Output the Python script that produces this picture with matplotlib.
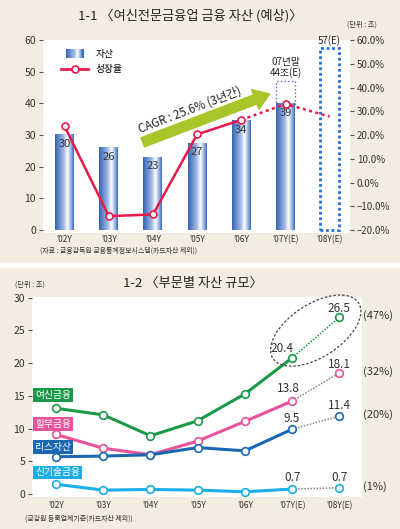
import numpy as np
import matplotlib
matplotlib.use('Agg')
import matplotlib.pyplot as plt
from matplotlib.colors import LinearSegmentedColormap
from matplotlib.patches import Rectangle, Ellipse, FancyArrowPatch
from matplotlib.lines import Line2D
from matplotlib.legend_handler import HandlerBase

plt.rcParams['font.family'] = ['Noto Sans CJK KR', 'DejaVu Sans']

# ---- 1-1 데이터 ----
years = ["'02Y", "'03Y", "'04Y", "'05Y", "'06Y", "'07Y(E)", "'08Y(E)"]
assets = [30, 26, 23, 27.4, 34.5, 39.8]          # 조
asset_labels = ['30', '26', '23', '27', '34', '39']
asset_07_end = 47                                 # 07년말 예상 박스 상단
asset_08 = 57.5
growth = [23.7, -14.1, -13.4, 20.3, 26.4, 33.1, 27.8]   # %

# ---- 1-2 데이터 ----
sectors = ['여신금융', '할부금융', '리스자산', '신기술금융']
credit = [13.1, 12.1, 8.9, 11.2, 15.3, 20.8, 27.0]
install = [9.1, 7.0, 6.0, 8.1, 11.1, 14.2, 18.5]
lease = [5.7, 5.8, 6.0, 7.1, 6.6, 9.9, 11.9]
newtech = [1.5, 0.6, 0.7, 0.6, 0.35, 0.76, 0.96]
value_labels = [['20.4', '26.5'], ['13.8', '18.1'], ['9.5', '11.4'], ['0.7', '0.7']]
shares = ['(47%)', '(32%)', '(20%)', '(1%)']

BG = '#f3ece1'
RED = '#e8194b'
colors = ['#1a9a48', '#e8529a', '#1b67b2', '#1aaee6']

fig = plt.figure(figsize=(4, 5.29), dpi=100, facecolor=BG)
fig.patches.append(Rectangle((0, 1 - 267 / 529), 1, 4 / 529, transform=fig.transFigure,
                             color='white', zorder=0))

# ================= 1-1 =================
ax1 = fig.add_axes([0.1075, 0.5595, 0.7675, 0.3649])
ax1.set_facecolor('white')
for s in ax1.spines.values():
    s.set_visible(False)

x = np.arange(len(years))
w = 0.43
bar_cmap = LinearSegmentedColormap.from_list('bar', [(0, '#3763b6'), (0.45, '#9db6e4'),
                                                     (0.66, '#ffffff'), (0.84, '#9fb9e6'),
                                                     (1, '#3a6cc0')])
grad = np.linspace(0, 1, 64).reshape(1, -1)
bars = ax1.bar(x[:6], assets, width=w, color='none', zorder=2)
for b, lab in zip(bars, asset_labels):
    x0 = b.get_x()
    h = b.get_height()
    ax1.imshow(grad, extent=[x0, x0 + w, 0, h], cmap=bar_cmap, aspect='auto', zorder=2)
    ax1.annotate(lab, (x0 + w / 2, h), xytext=(0, -6.5), textcoords='offset points',
                 ha='center', va='center', fontsize=8, color='#333333', zorder=4)

# 07년말 예상분, 08년 예상
ax1.bar(x[5], asset_07_end - assets[5], bottom=assets[5], width=w, fill=False,
        edgecolor='#6a5ad6', linestyle=':', linewidth=1, zorder=3)
ax1.annotate('07년말\n44조(E)', (x[5], asset_07_end), xytext=(0, 2), textcoords='offset points',
             ha='center', va='bottom', fontsize=7, linespacing=1.1, color='#222222')
ax1.bar(x[6], asset_08, width=w, fill=False, edgecolor='#1f6fd6',
        linestyle=(0, (1, 1)), linewidth=2, zorder=3)
ax1.annotate('57(E)', (x[6], asset_08), xytext=(0, 1.5), textcoords='offset points',
             ha='center', va='bottom', fontsize=7, color='#222222')

ax1.set_xlim(-0.49, 6.46)
ax1.set_ylim(-0.9, 60)
ax1.set_yticks(range(0, 61, 10))
ax1.set_xticks(x)
ax1.set_xticklabels(years)
ax1.tick_params(axis='y', length=3, width=0.8, color='#555555', labelsize=7.5, pad=2,
                labelcolor='#333333')
ax1.tick_params(axis='x', length=0, labelsize=6, pad=1.5, labelcolor='#333333')

# CAGR 화살표
arrow = FancyArrowPatch((1.71, 27.4), (4.7, 43.3),
                        arrowstyle='simple,head_length=1.1,head_width=1.5,tail_width=0.7',
                        mutation_scale=10, color='#a8c62a', zorder=3)
ax1.add_patch(arrow)
ax1.text(2.84, 37.9, 'CAGR : 25.6% (3년간)', rotation=21, ha='center', va='center',
         fontsize=8.3, color='#222222', zorder=4)

# 성장율 (우축)
ax2 = ax1.twinx()
for s in ax2.spines.values():
    s.set_visible(False)
ax2.plot(x[:5], growth[:5], color=RED, lw=1.8, zorder=3)
ax2.plot(x[4:], growth[4:], color=RED, lw=1.8, ls=(0, (1.2, 1.4)), zorder=3)
ax2.plot(x[:6], growth[:6], ls='none', marker='o', ms=5, mfc='white', mec=RED, mew=1.2,
         zorder=4)
ax2.set_ylim(-21.2, 60)
ticks2 = list(range(-20, 61, 10))
ax2.set_yticks(ticks2)
ax2.set_yticklabels([f'{t:.1f}%'.replace('-', '–') for t in ticks2])
ax2.tick_params(axis='y', length=3, width=0.8, color='#555555', labelsize=7, pad=2,
                labelcolor='#333333')


class GradientHandler(HandlerBase):
    def create_artists(self, legend, orig_handle, xdescent, ydescent, width, height,
                       fontsize, trans):
        n = 16
        cw = width * 0.65 / n
        x0 = width * 0.18 - xdescent
        arts = []
        for i in range(n):
            r = Rectangle((x0 + i * cw, -ydescent - height * 0.15), cw * 1.05, height * 1.3,
                          facecolor=bar_cmap(i / (n - 1)), edgecolor='none', transform=trans)
            arts.append(r)
        return arts


bar_handle = Rectangle((0, 0), 1, 1)
line_handle = Line2D([], [], color=RED, lw=2, marker='o', ms=5, mfc='white', mec=RED, mew=1.2)
ax1.legend([bar_handle, line_handle], ['자산', '성장율'],
           handler_map={Rectangle: GradientHandler()},
           loc='upper left', bbox_to_anchor=(0.03, 1.0), frameon=False, fontsize=7,
           handlelength=2.8, handletextpad=0.8, labelspacing=0.55)

fig.text(0.475, 1 - 16 / 529, '1-1 〈여신전문금융업 금융 자산 (예상)〉', ha='center', va='center',
         fontsize=9.5, color='#222222')
fig.text(362 / 400, 1 - 25 / 529, '(단위 : 조)', ha='center', va='center', fontsize=5.2,
         color='#333333')
fig.text(40 / 400, 1 - 251 / 529, '(자료 : 금융감독원 금융통계정보시스템(카드자산 제외))',
         ha='left', va='center', fontsize=5, color='#333333')

# ================= 1-2 =================
ax3 = fig.add_axes([0.08, 0.0605, 0.825, 0.378])
ax3.set_facecolor('white')
for s in ax3.spines.values():
    s.set_visible(False)
ax3.set_xlim(-0.51, 6.48)
ax3.set_ylim(-0.45, 30.1)

series = [credit, install, lease, newtech]
dot_colors = [colors[0], '#888888', '#888888', '#888888']
label_offsets = [[(-7, 7), (0, 6.5)], [(-3, 9), (0, 6)], [(0, 8), (0, 7.5)], [(0, 8.5), (0, 7.5)]]
box_y = [15.1, 10.7, 7.2, 3.3]

for vals, c, dc, labs, offs, name, by, sh in zip(series, colors, dot_colors, value_labels,
                                                 label_offsets, sectors, box_y, shares):
    ax3.plot(x[5:], vals[5:], color=dc, lw=1.1, ls=(0, (1, 1)), zorder=2)
    ax3.plot(x[:6], vals[:6], color=c, lw=2.2, zorder=3)
    ax3.plot(x, vals, ls='none', marker='o', ms=5.5, mfc='white', mec=c, mew=1.2, zorder=4)
    for xi, lab, off in zip(x[5:], labs, offs):
        ax3.annotate(lab, (xi, vals[xi]), xytext=off, textcoords='offset points',
                     ha='center', va='center', fontsize=8.5, color='#333333', zorder=5)
    ax3.annotate(sh, (x[6], vals[6]), xytext=(17, 1), textcoords='offset points',
                 ha='left', va='center', fontsize=8, color='#333333', annotation_clip=False)
    ax3.text(-0.445, by, name, ha='left', va='center', fontsize=7, color='white', zorder=5,
             bbox=dict(boxstyle='square,pad=0.18', facecolor=c, edgecolor='none'))

ax3.set_yticks(range(0, 31, 5))
ax3.set_xticks(x)
ax3.set_xticklabels(years)
ax3.tick_params(axis='y', length=3, width=0.8, color='#555555', labelsize=7.5, pad=2,
                labelcolor='#333333')
ax3.tick_params(axis='x', length=0, labelsize=6, pad=3, labelcolor='#333333')

# 점선 타원 (07~08 여신금융)
p7 = ax3.transData.transform((x[5], credit[5]))
p8 = ax3.transData.transform((x[6], credit[6]))
cx, cy = (p7 + p8) / 2
ell = Ellipse((cx / fig.dpi, (cy + 7) / fig.dpi), 1.02, 0.53, angle=33, fill=False,
              edgecolor='#444444', lw=0.9, ls=(0, (2, 1.5)), transform=fig.dpi_scale_trans,
              zorder=6)
fig.patches.append(ell)

fig.text(193 / 400, 1 - 283 / 529, '1-2 〈부문별 자산 규모〉', ha='center', va='center',
         fontsize=9.5, color='#222222')
fig.text(30 / 400, 1 - 285 / 529, '(단위 : 조)', ha='center', va='center', fontsize=5.2,
         color='#333333')
fig.text(25 / 400, 1 - 519 / 529, '(금감원 등록업체기준(카드자산 제외))', ha='left', va='center',
         fontsize=5, color='#333333')

fig.savefig('out.png', dpi=100, facecolor=BG)
